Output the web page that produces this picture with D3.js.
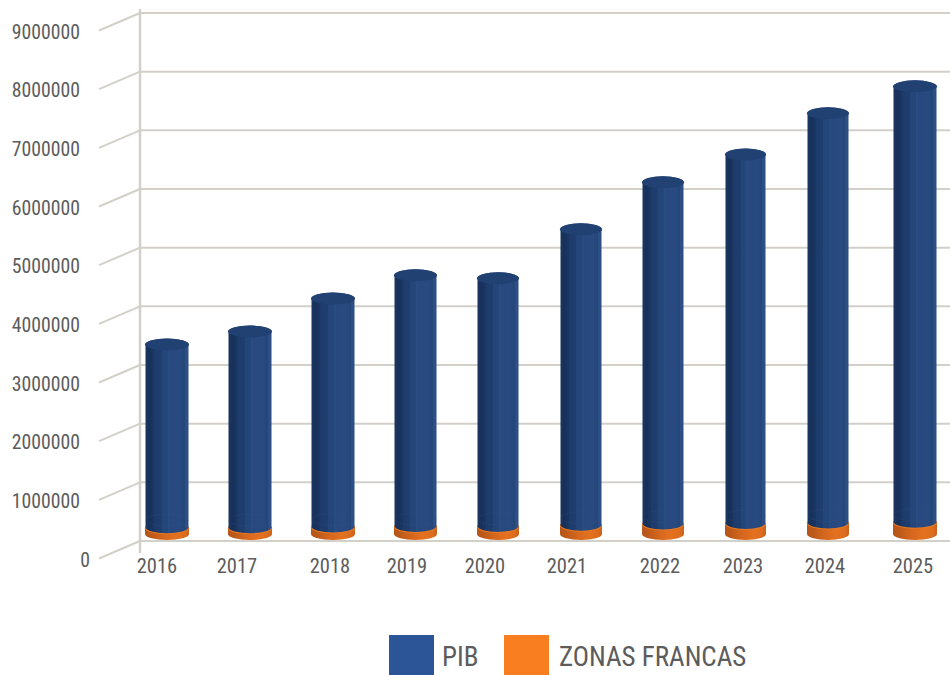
<!DOCTYPE html>
<html><head><meta charset="utf-8">
<script src="https://cdn.jsdelivr.net/npm/d3@7/dist/d3.min.js"></script>
<style>html,body{margin:0;padding:0;background:#fff;overflow:hidden}svg{display:block}
text{font-family:"Liberation Sans Narrow","Roboto Condensed",Roboto,sans-serif;fill:#5c5c5c}</style>
</head><body><svg id="c" width="950" height="675"></svg>
<script>
const years = ["2016","2017","2018","2019","2020","2021","2022","2023","2024","2025"];
const pib = [3130000,3350000,3905000,4290000,4240000,5055000,5835000,6300000,6990000,7440000];
const zonasFrancas = [100000,100000,110000,120000,120000,140000,160000,170000,180000,190000];
const yTicks = [0,1000000,2000000,3000000,4000000,5000000,6000000,7000000,8000000,9000000];
const seriesNames = ["PIB","ZONAS FRANCAS"];

const barCentres = [167,250,333,415.5,498,581,663,745.5,828,915];
const barHalfWidths = [22,22,22,21.5,21,21,21,20.5,21,22];
const labelCentres = [157,237,330,407,485,567,660,743,825,913];
const svg = d3.select("#c");
const y = d3.scaleLinear().domain([0,9000000]).range([541,13]);
const xBar = d3.scaleOrdinal().domain(years).range(barCentres);
const rxOf = d3.scaleOrdinal().domain(years).range(barHalfWidths);
const xLab = d3.scaleOrdinal().domain(years).range(labelCentres);
const depth = 7, ry = 6, wall = 140;
const grid = "#d2d0c8";

const defs = svg.append("defs");
function grad(id, stops){
  const g = defs.append("linearGradient").attr("id",id);
  stops.forEach(s=>g.append("stop").attr("offset",s[0]).attr("stop-color",s[1]));
}
grad("blue",[[0,"#1a365f"],[.1,"#16305a"],[.2,"#1a3763"],[.2,"#1d3b69"],[.38,"#1f3e70"],[.38,"#234577"],[.52,"#24477b"],[.52,"#2a4d84"],[.58,"#28497f"],[.8,"#274a80"],[.92,"#234578"],[.92,"#2d4f86"],[1,"#2c4e85"]]);
grad("orange",[[0,"#b4551a"],[.15,"#bd5a1a"],[.45,"#d8681e"],[.7,"#e4711f"],[.9,"#dc6c1e"],[1,"#c9621d"]]);

const ticks = svg.append("g").selectAll("g").data(yTicks).join("g");
ticks.append("line").attr("x1",wall).attr("x2",950).attr("y1",d=>y(d)).attr("y2",d=>y(d)).attr("stroke",grid).attr("stroke-width",2);
ticks.append("line").attr("x1",99).attr("x2",wall).attr("y1",d=>y(d)+17.5).attr("y2",d=>y(d)).attr("stroke",grid).attr("stroke-width",2);
ticks.append("text").attr("transform",d=>`translate(${d===0?90:80},${y(d)+25.5}) scale(.94,1)`).attr("text-anchor","end").attr("font-size",21).text(d=>d);
svg.append("line").attr("x1",wall).attr("x2",wall).attr("y1",9).attr("y2",553).attr("stroke",grid).attr("stroke-width",2.5);

function body(cx, rx, yBottom, yTop){
  return `M${cx-rx},${yTop}A${rx},${ry} 0 0 1 ${cx+rx},${yTop}L${cx+rx},${yBottom}A${rx},${ry} 0 0 1 ${cx-rx},${yBottom}Z`;
}
const py = v => y(v) - depth;
const bars = svg.append("g").selectAll("g").data(years.map((yr,i)=>({yr,p:pib[i],z:zonasFrancas[i]}))).join("g");
bars.append("path").attr("d",d=>body(xBar(d.yr),rxOf(d.yr),py(0),py(d.z))).attr("fill","url(#orange)");
bars.append("ellipse").attr("cx",d=>xBar(d.yr)).attr("cy",d=>py(d.z)).attr("rx",d=>rxOf(d.yr)).attr("ry",ry).attr("fill","#e8781f");
bars.append("path").attr("d",d=>body(xBar(d.yr),rxOf(d.yr)-.5,py(d.z)-1,py(d.z+d.p))).attr("fill","url(#blue)");
bars.append("ellipse").attr("cx",d=>xBar(d.yr)).attr("cy",d=>py(d.z)-8).attr("rx",d=>rxOf(d.yr)-1).attr("ry",ry)
  .attr("fill","none").attr("stroke","#3a5a90").attr("stroke-opacity",.3).attr("stroke-dasharray","1.5 1.5");
bars.append("ellipse").attr("cx",d=>xBar(d.yr)).attr("cy",d=>py(d.z+d.p)).attr("rx",d=>rxOf(d.yr)).attr("ry",ry).attr("fill","#214173");

svg.append("g").selectAll("text").data(years).join("text")
  .attr("x",d=>xLab(d)).attr("y",573).attr("text-anchor","middle").attr("font-size",20.5).text(d=>d);

const legend = [{n:seriesNames[0],c:"#2b5597",x:389},{n:seriesNames[1],c:"#f97e20",x:504}];
svg.append("g").selectAll("rect").data(legend).join("rect").attr("x",d=>d.x).attr("y",635).attr("width",45).attr("height",40).attr("fill",d=>d.c);
svg.append("g").selectAll("text").data(legend).join("text").attr("x",d=>d.x+(d.n==="PIB"?53:55)).attr("y",665.5).attr("font-size",27).text(d=>d.n);
</script></body></html>
